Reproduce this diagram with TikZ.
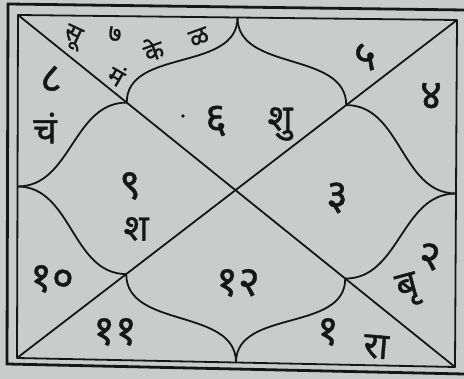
\documentclass[tikz,border=0pt]{standalone}
\usepackage{fontspec}
\newfontfamily\dev[Script=Devanagari,FakeBold=1]{Noto Sans}
\usetikzlibrary{calc}
\definecolor{paper}{RGB}{200,204,202}
\definecolor{ink}{RGB}{22,22,22}
\begin{document}
\begin{tikzpicture}[x=1pt,y=1pt,
  chart/.style={draw=ink,line width=1.8pt,line join=round},
  frame/.style={draw=ink,line width=2.8pt,line join=miter},
  lbl/.style={font=\dev\fontsize{37}{37}\selectfont,text=ink,inner sep=0pt},
  num/.style={font=\dev\fontsize{42}{42}\selectfont,text=ink,inner sep=0pt},
  sml/.style={font=\dev\fontsize{25}{25}\selectfont,text=ink,inner sep=0pt},
  mask/.style={fill=paper,inner sep=0pt}]
\useasboundingbox[fill=paper] (0,0) rectangle (464,-379);
% outer frame
\draw[frame] (464,-10) -- (8,-4) -- (7,-364) -- (464,-374);
% inner chart
\coordinate (TL) at (18,-15);
\coordinate (TR) at (457,-20);
\coordinate (BR) at (455,-367);
\coordinate (BL) at (17,-358);
\coordinate (T) at ($(TL)!0.5!(TR)$);
\coordinate (B) at ($(BL)!0.5!(BR)$);
\coordinate (L) at ($(TL)!0.5!(BL)$);
\coordinate (R) at ($(TR)!0.5!(BR)$);
\coordinate (C) at (intersection of TL--BR and TR--BL);
\coordinate (QTL) at ($(TL)!0.5!(C)$);
\coordinate (QTR) at ($(TR)!0.5!(C)$);
\coordinate (QBL) at ($(BL)!0.5!(C)$);
\coordinate (QBR) at ($(BR)!0.5!(C)$);
\draw[chart] (TL) -- (TR) -- (BR) -- (BL) -- cycle;
\draw[chart] (TL) -- (BR) (TR) -- (BL);
\draw[chart] (T) to[out=-90,in=90] (QTL);
\draw[chart] (T) to[out=-90,in=90] (QTR);
\draw[chart] (L) to[out=0,in=180] (QTL);
\draw[chart] (L) to[out=0,in=180] (QBL);
\draw[chart] (R) to[out=180,in=0] (QTR);
\draw[chart] (R) to[out=180,in=0] (QBR);
\draw[chart] (B) to[out=90,in=-90] (QBL);
\draw[chart] (B) to[out=90,in=-90] (QBR);
% labels
\node[sml,mask,rotate=-25] (su) at (72,-37) {सू};
\node[sml] (h7) at (115,-34) {७};
\node[sml,mask,rotate=20] (ke) at (153,-49) {के};
\node[sml,rotate=20] (bu) at (199,-37) {ळ};
\node[sml,rotate=-30] (ma) at (117,-75) {मं};
\node[num] (h8) at (51,-79) {८};
\node[lbl] (cha) at (45,-128) {चं};
\node[num] (h6) at (216,-121) {६};
\node[circle,fill=ink,inner sep=1.3pt] (dot) at (183,-116) {};
\node[lbl] (shu) at (280,-124) {शु};
\node[num] (h5) at (365,-57) {५};
\node[num] (h4) at (431,-96) {४};
\node[num] (h9) at (130,-186) {९};
\node[lbl] (sha) at (136,-229) {श};
\node[num] (h3) at (337,-198) {३};
\node[num] (h10) at (52,-279) {१०};
\node[num] (h12) at (238,-283) {१२};
\node[num] (h2) at (430,-257) {२};
\node[lbl,rotate=15] (bri) at (408,-290) {बृ};
\node[num] (h11) at (115,-332) {११};
\node[num] (h1) at (328,-332) {१};
\node[lbl,rotate=-5] (ra) at (376,-347) {रा};
\end{tikzpicture}
\end{document}
